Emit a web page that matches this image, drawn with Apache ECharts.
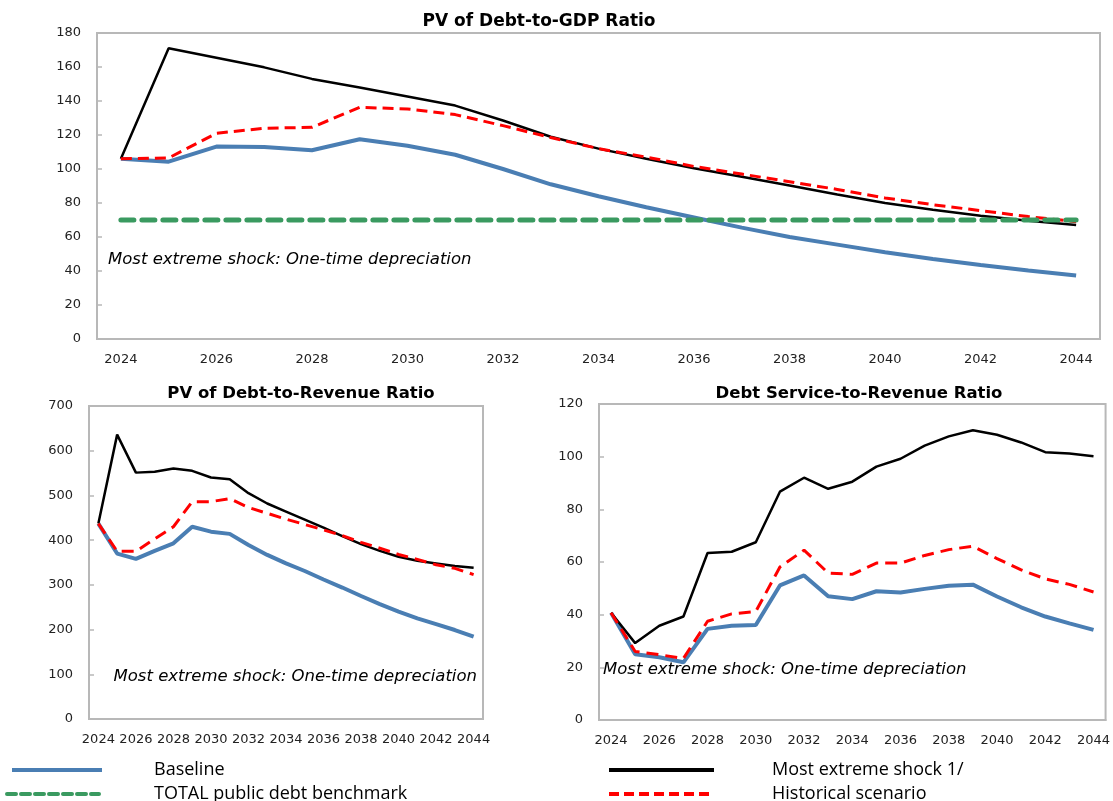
<!DOCTYPE html>
<html><head><meta charset="utf-8">
<script src="https://cdn.jsdelivr.net/npm/echarts@6/dist/echarts.min.js"></script>
<style>html,body{margin:0;padding:0;background:#fff}#c{width:1113px;height:801px}</style>
</head><body><div id="c"></div>
<script>
const years = ['2024','2025','2026','2027','2028','2029','2030','2031','2032','2033','2034','2035','2036','2037','2038','2039','2040','2041','2042','2043','2044'];

const gdpBaseline = [106, 104.3, 113.2, 113, 111, 117.5, 113.7, 108.4, 100, 91, 84, 77.5, 71.5, 65.5, 60, 55.5, 51, 47, 43.5, 40.3, 37.3];
const gdpShock    = [106, 171, 165.5, 159.8, 153, 148, 142.7, 137.3, 128.5, 119, 112, 106, 100.5, 95.5, 90.3, 85, 80, 76, 72.5, 69.5, 67];
const gdpHist     = [106, 106.5, 121, 124, 124.5, 136.3, 135.3, 132, 125.5, 118.5, 112, 107, 101.5, 97, 92.5, 88, 83, 79, 75.5, 72, 69];
const gdpBench    = [70, 70, 70, 70, 70, 70, 70, 70, 70, 70, 70, 70, 70, 70, 70, 70, 70, 70, 70, 70, 70];

const revBaseline = [437, 370, 358, 376, 393, 430, 419, 414, 389, 367, 348, 331, 312, 294, 275, 257, 240, 225, 212, 199, 184];
const revShock    = [437, 636, 551, 553, 560, 555, 540, 536, 505, 482, 464, 446, 428, 409, 391, 376, 363, 354, 348, 342, 338];
const revHist     = [437, 375, 375, 403, 430, 486, 486, 493, 473, 460, 447, 435, 423, 410, 395, 382, 368, 357, 345, 337, 323];

const dsBaseline  = [40.7, 25, 23.8, 21.9, 34.6, 35.8, 36.1, 51.1, 54.9, 47, 45.9, 48.9, 48.4, 49.8, 51, 51.4, 46.9, 42.8, 39.3, 36.7, 34.2];
const dsShock     = [40.7, 29.2, 35.8, 39.3, 63.4, 63.9, 67.5, 86.7, 92, 87.8, 90.5, 96.2, 99.2, 104.2, 107.7, 110, 108.3, 105.4, 101.7, 101.2, 100.2];
const dsHist      = [40.7, 26, 24.8, 23.4, 37.5, 40.3, 41.2, 58.1, 64.5, 55.8, 55.3, 59.6, 59.6, 62.5, 64.7, 66, 61.3, 57, 53.6, 51.5, 48.6];

const titles = ['PV of Debt-to-GDP Ratio', 'PV of Debt-to-Revenue Ratio', 'Debt Service-to-Revenue Ratio'];
const note = 'Most extreme shock: One-time depreciation';
const names = { base: 'Baseline', bench: 'TOTAL public debt benchmark', shock: 'Most extreme shock 1/', hist: 'Historical scenario' };

const FONT = '"DejaVu Sans", "Open Sans", sans-serif';
const LFONT = '"Open Sans", "Noto Sans", sans-serif';
const GRAY = '#b8b8b8';
const BLUE = '#4a7eb3', RED = '#ff0000', GREEN = '#3a9a60', BLACK = '#000000';

function xAxis(gi) {
  return {
    type: 'category', gridIndex: gi, data: years, boundaryGap: true,
    axisLine: { lineStyle: { color: GRAY, width: 2 } },
    axisTick: { inside: true, length: 5, interval: 0, lineStyle: { color: GRAY, width: 1.5 } },
    axisLabel: { interval: 1, color: '#222', fontSize: 13, fontFamily: FONT, margin: 14 }
  };
}
function yAxis(gi, max, step) {
  return {
    type: 'value', gridIndex: gi, min: 0, max: max, interval: step,
    axisLine: { show: true, lineStyle: { color: GRAY, width: 2 } },
    axisTick: { show: true, inside: true, length: 5, lineStyle: { color: GRAY, width: 1.5 } },
    splitLine: { show: false },
    axisLabel: { color: '#222', fontSize: 13, fontFamily: FONT, margin: 16 }
  };
}
function line(name, gi, data, color, width, type, cap) {
  return {
    name: name, type: 'line', xAxisIndex: gi, yAxisIndex: gi, data: data,
    symbol: 'none', showSymbol: false, animation: false,
    lineStyle: { color: color, width: width, type: type || 'solid', cap: cap || 'butt' },
    itemStyle: { color: color }
  };
}
function legendItem(name, left, top, w, pad, ltype) {
  return {
    data: [name], left: left, top: top, padding: 0, itemWidth: w, itemHeight: 20,
    itemStyle: { opacity: 0 },
    lineStyle: { width: 4, type: ltype || 'solid' },
    textStyle: { fontSize: 18, lineHeight: 20, fontFamily: LFONT, color: '#000', padding: [0, 0, 0, pad] }
  };
}
const titleStyle = { fontSize: 16.5, fontWeight: 'bold', fontFamily: FONT, color: '#000' };
const noteStyle = { text: note, fontSize: 16.5, fontStyle: 'italic', fontFamily: FONT, fill: '#000', verticalAlign: 'middle' };

const chart = echarts.init(document.getElementById('c'), null, { renderer: 'canvas' });
chart.setOption({
  animation: false,
  backgroundColor: '#fff',
  title: [
    { text: titles[0], left: 534, top: 8, textAlign: 'center', textStyle: Object.assign({}, titleStyle, { fontSize: 17 }) },
    { text: titles[1], left: 296, top: 380, textAlign: 'center', textStyle: titleStyle },
    { text: titles[2], left: 854, top: 380, textAlign: 'center', textStyle: titleStyle }
  ],
  grid: [
    { left: 97, top: 33, width: 1003, height: 306, show: true, borderColor: GRAY, borderWidth: 2 },
    { left: 89, top: 406, width: 394, height: 313, show: true, borderColor: GRAY, borderWidth: 2 },
    { left: 599, top: 404, width: 509, height: 316, show: true, borderColor: GRAY, borderWidth: 2 }
  ],
  xAxis: [xAxis(0), xAxis(1), xAxis(2)],
  yAxis: [yAxis(0, 180, 20), yAxis(1, 700, 100), yAxis(2, 120, 20)],
  legend: [
    legendItem(names.base, 10, 760, 90, 47),
    legendItem(names.bench, 5, 784, 92, 50, [9, 5]),
    legendItem(names.shock, 607, 760, 105, 53),
    legendItem(names.hist, 607, 784, 105, 53, [10, 5])
  ],
  series: [
    line(names.base, 0, gdpBaseline, BLUE, 4),
    line(names.shock, 0, gdpShock, BLACK, 2.5),
    line(names.hist, 0, gdpHist, RED, 3, [11, 6]),
    line(names.bench, 0, gdpBench, GREEN, 5, [13, 8], 'round'),
    line(names.base, 1, revBaseline, BLUE, 4),
    line(names.shock, 1, revShock, BLACK, 2.5),
    line(names.hist, 1, revHist, RED, 3, [12, 7]),
    line(names.base, 2, dsBaseline, BLUE, 4),
    line(names.shock, 2, dsShock, BLACK, 2.5),
    line(names.hist, 2, dsHist, RED, 3, [12, 7])
  ],
  graphic: [
    { type: 'text', x: 108, y: 260, style: Object.assign({}, noteStyle, { align: 'left' }) },
    { type: 'text', x: 477, y: 677, style: Object.assign({}, noteStyle, { align: 'right' }) },
    { type: 'text', x: 603, y: 670, style: Object.assign({}, noteStyle, { align: 'left' }) }
  ]
});
</script></body></html>
